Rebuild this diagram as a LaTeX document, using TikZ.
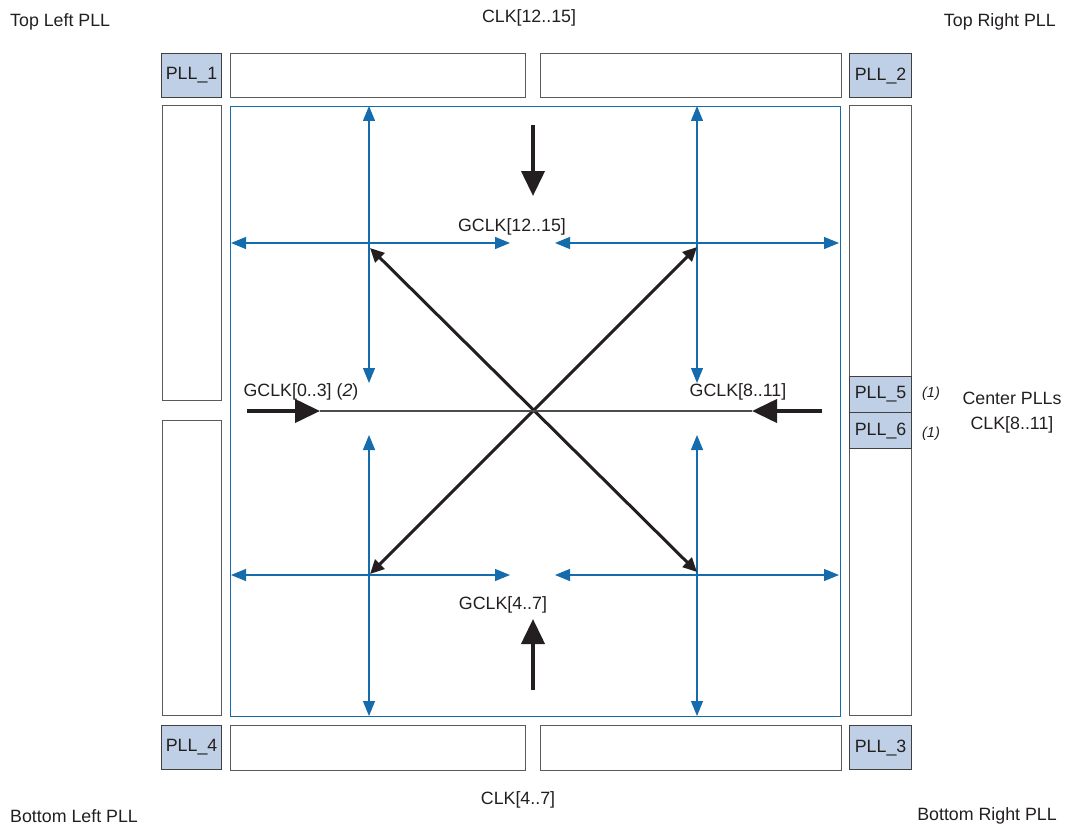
\documentclass[tikz,border=0pt]{standalone}
\usepackage{fontspec}
\setmainfont{Liberation Sans}
\usetikzlibrary{arrows.meta}
\definecolor{clkblue}{RGB}{20,108,172}
\definecolor{pllfill}{RGB}{191,207,230}
\definecolor{boxgray}{RGB}{90,90,90}
\definecolor{ink}{RGB}{35,31,32}
\begin{document}
\begin{tikzpicture}[x=1pt,y=-1pt,
  txt/.style={font=\fontsize{17.8}{20}\selectfont, text=ink, inner sep=0pt},
  iobox/.style={draw=boxgray, line width=1pt, fill=white},
  pllbox/.style={draw=black!75, line width=1.2pt, fill=pllfill},
  bluearr/.style={draw=clkblue, line width=1.2pt, {Triangle[length=15pt,width=12pt]}-{Triangle[length=15pt,width=12pt]}},
  bigarr/.style={draw=ink, line width=4pt, -{Triangle[length=25pt,width=23pt]}},
  diagarr/.style={draw=ink, line width=3pt, {Triangle[length=14pt,width=13pt]}-{Triangle[length=14pt,width=13pt]}}
]
\useasboundingbox (0,0) rectangle (1065,824);
% corner PLL boxes
\node[pllbox, minimum width=60pt, minimum height=44pt, anchor=north west, txt] (pll1) at (161,53) {PLL\_1};
\node[pllbox, minimum width=62pt, minimum height=44pt, anchor=north west, txt] (pll2) at (849,53) {PLL\_2};
\node[pllbox, minimum width=60pt, minimum height=44pt, anchor=north west, txt] (pll4) at (161,725) {PLL\_4};
\node[pllbox, minimum width=62pt, minimum height=44pt, anchor=north west, txt] (pll3) at (849,725) {PLL\_3};
% top/bottom IO boxes
\node[iobox, minimum width=295pt, minimum height=44pt, anchor=north west] (tl) at (230,53) {};
\node[iobox, minimum width=301pt, minimum height=44pt, anchor=north west] (tr) at (540,53) {};
\node[iobox, minimum width=295pt, minimum height=45pt, anchor=north west] (bl) at (230,725) {};
\node[iobox, minimum width=301pt, minimum height=45pt, anchor=north west] (br) at (540,725) {};
% left column
\node[iobox, minimum width=59pt, minimum height=295pt, anchor=north west] (lt) at (162,105) {};
\node[iobox, minimum width=59pt, minimum height=295pt, anchor=north west] (lb) at (162,420) {};
% right column
\node[iobox, minimum width=62pt, minimum height=610pt, anchor=north west] (rc) at (849,105) {};
\node[pllbox, minimum width=62pt, minimum height=36pt, anchor=north west, txt] (pll5) at (849,376) {PLL\_5};
\node[pllbox, minimum width=62pt, minimum height=36pt, anchor=north west, txt] (pll6) at (849,412) {PLL\_6};
% main region
\node[draw=clkblue, line width=1.2pt, minimum width=610pt, minimum height=610pt, anchor=north west] (core) at (230,106) {};
% coordinates
\coordinate (v1a) at (369,106); \coordinate (v1b) at (369,383);
\coordinate (v1c) at (369,435); \coordinate (v1d) at (369,716);
\coordinate (v2a) at (697,106); \coordinate (v2b) at (697,383);
\coordinate (v2c) at (697,435); \coordinate (v2d) at (697,716);
\coordinate (h1a) at (231,243); \coordinate (h1b) at (510,243);
\coordinate (h1c) at (555,243); \coordinate (h1d) at (839,243);
\coordinate (h2a) at (231,575); \coordinate (h2b) at (510,575);
\coordinate (h2c) at (555,575); \coordinate (h2d) at (839,575);
\draw[bluearr] (v1a) -- (v1b);
\draw[bluearr] (v1c) -- (v1d);
\draw[bluearr] (v2a) -- (v2b);
\draw[bluearr] (v2c) -- (v2d);
\draw[bluearr] (h1a) -- (h1b);
\draw[bluearr] (h1c) -- (h1d);
\draw[bluearr] (h2a) -- (h2b);
\draw[bluearr] (h2c) -- (h2d);
% diagonals
\coordinate (d1a) at (370,248); \coordinate (d1b) at (697,572);
\coordinate (d2a) at (697,247); \coordinate (d2b) at (370,574);
\draw[diagarr] (d1a) -- (d1b);
\draw[diagarr] (d2a) -- (d2b);
% centre horizontal
\coordinate (la) at (247,411); \coordinate (lt2) at (320,411);
\coordinate (ra) at (822,411); \coordinate (rt2) at (752,411);
\draw[black!70, line width=1.2pt] (lt2) -- (rt2);
\draw[bigarr] (la) -- (lt2);
\draw[bigarr] (ra) -- (rt2);
% top and bottom feed arrows
\coordinate (ta) at (533,125); \coordinate (tb) at (533,196);
\coordinate (ba) at (533,690); \coordinate (bb) at (533,619);
\draw[bigarr] (ta) -- (tb);
\draw[bigarr] (ba) -- (bb);
% labels
\node[txt] (g1215) at (512,227) {GCLK[12..15]};
\node[txt] (g03) at (301,392) {GCLK[0..3] (\textit{2})};
\node[txt] (g811) at (738,392) {GCLK[8..11]};
\node[txt] (g47) at (503,605) {GCLK[4..7]};
\node[txt] (c1215) at (529,18) {CLK[12..15]};
\node[txt] (c47) at (518,800) {CLK[4..7]};
\node[txt, anchor=west] (tlp) at (10,22) {Top Left PLL};
\node[txt, anchor=east] (trp) at (1056,22) {Top Right PLL};
\node[txt, anchor=west] (blp) at (10,816) {Bottom Left PLL};
\node[txt, anchor=east] (brp) at (1057,816) {Bottom Right PLL};
\node[txt, font=\fontsize{14.5}{16}\selectfont\itshape] (n1a) at (931,394) {(1)};
\node[txt, font=\fontsize{14.5}{16}\selectfont\itshape] (n1b) at (931,434) {(1)};
\node[txt] (cp) at (1012,398) {Center PLLs};
\node[txt] (c811) at (1012,425) {CLK[8..11]};
\end{tikzpicture}
\end{document}
